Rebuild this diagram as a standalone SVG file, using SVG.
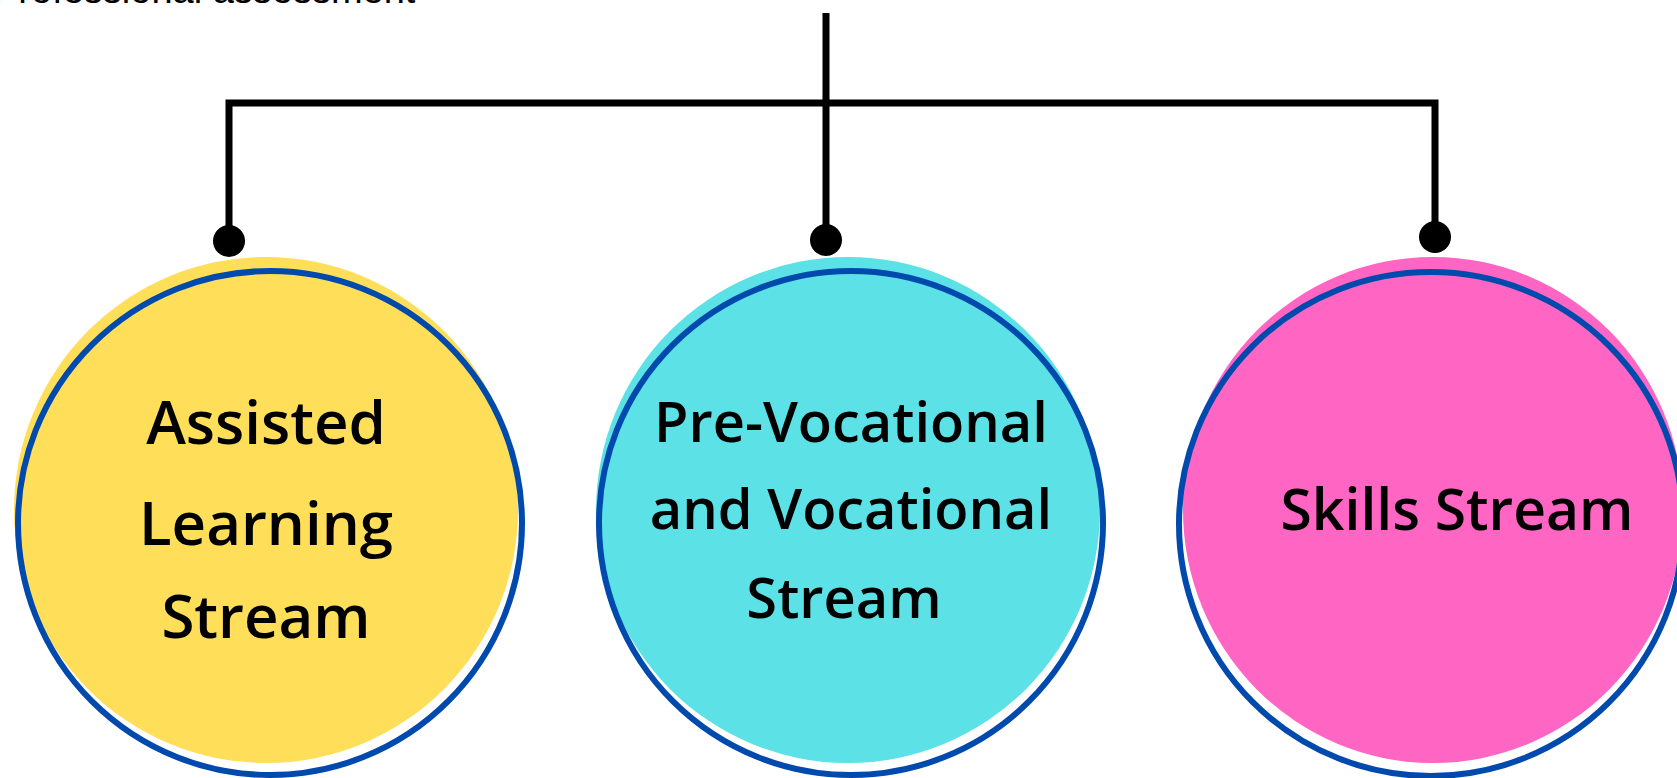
<svg xmlns="http://www.w3.org/2000/svg" width="1677" height="778" viewBox="0 0 1677 778">
<defs>
<style>
.ring{fill:none;stroke:#004AAD;stroke-width:6}
.lbl{font-family:"Open Sans","Noto Sans",sans-serif;font-weight:600;fill:#000;text-anchor:middle}
.wire{stroke:#000;stroke-width:7;fill:none}
.dot{fill:#000}
</style>
</defs>
<rect width="1677" height="778" fill="#fff"/>
<text x="-7" y="3" font-family="Liberation Sans, Arial, sans-serif" font-size="38" fill="#000">Professional assessment</text>
<g id="connectors">
<path class="wire" d="M229 241 V103 H1435 V237"/>
<path class="wire" d="M826 13 V240"/>
<circle class="dot" cx="229" cy="241" r="16"/>
<circle class="dot" cx="826" cy="240" r="16"/>
<circle class="dot" cx="1435" cy="237" r="16"/>
</g>
<g id="node-assisted">
<ellipse cx="266" cy="510" rx="252" ry="253" fill="#FFDE59"/>
<circle class="ring" cx="270" cy="523" r="252"/>
<text class="lbl" font-size="60"><tspan x="266" y="444">Assisted</tspan><tspan x="266" y="545">Learning</tspan><tspan x="266" y="638">Stream</tspan></text>
</g>
<g id="node-vocational">
<ellipse cx="848" cy="510" rx="252" ry="253" fill="#5CE1E6"/>
<circle class="ring" cx="851" cy="523" r="252"/>
<text class="lbl" font-size="56"><tspan x="851" y="442">Pre-Vocational</tspan><tspan x="851" y="529">and Vocational</tspan><tspan x="844" y="618">Stream</tspan></text>
</g>
<g id="node-skills">
<ellipse cx="1433" cy="510" rx="250" ry="253" fill="#FF66C4"/>
<circle class="ring" cx="1431" cy="524" r="252"/>
<text class="lbl" font-size="57" x="1457" y="530">Skills Stream</text>
</g>
</svg>
